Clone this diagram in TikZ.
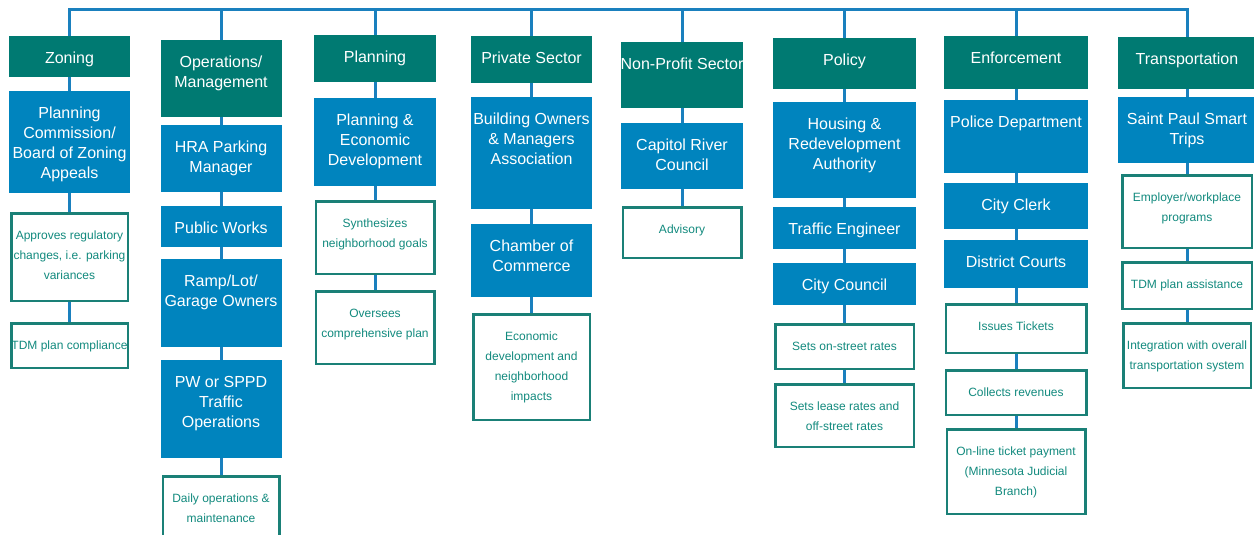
\documentclass[tikz,border=0pt]{standalone}
\usepackage{fontspec}
\setmainfont{Liberation Sans}
\usepackage{tikz}
\definecolor{hdrteal}{HTML}{007A72}
\definecolor{unitblue}{HTML}{0084BE}
\definecolor{linkblue}{HTML}{1A80BE}
\definecolor{dutyline}{HTML}{1A8077}
\definecolor{dutytext}{HTML}{128A7E}
\newcommand{\boxtxt}[3]{\parbox[c][#2pt][t]{#1pt}{\centering\rule{0pt}{27pt}#3}}
\newcommand{\dutytxt}[3]{\parbox[c][#2pt][t]{#1pt}{\centering\rule{0pt}{26pt}#3}}
\tikzset{
  hdr/.style={fill=hdrteal, text=white, inner sep=0pt, anchor=north, font=\fontsize{16}{20}\selectfont},
  unit/.style={fill=unitblue, text=white, inner sep=0pt, anchor=north, font=\fontsize{16}{20}\selectfont},
  duty/.style={draw=dutyline, line width=2.5pt, fill=white, text=dutytext, inner sep=0pt, anchor=north, font=\fontsize{12}{20}\selectfont},
  link/.style={draw=linkblue, line width=3pt}
}

\begin{document}
\begin{tikzpicture}[x=1pt,y=-1pt]
                \useasboundingbox (0,0) rectangle (1254,535);
                \clip (0,0) rectangle (1254,535);

                \node[hdr] (zon) at (69.5,36) {\boxtxt{121}{41}{Zoning}};
                \node[unit] (pcb) at (69.5,91) {\boxtxt{121}{102}{Planning\\Commission/\\Board of Zoning\\Appeals}};
                \node[duty] (appr) at (69.5,212.25) {\dutytxt{116.5}{87.5}{Approves regulatory\\changes, i.e. parking\\variances}};
                \node[duty] (tdmc) at (69.5,322.25) {\dutytxt{116.5}{44.5}{TDM plan compliance}};

                \node[hdr] (ops) at (221,40) {\boxtxt{121}{77}{Operations/\\Management}};
                \node[unit] (hra) at (221,125) {\boxtxt{121}{67}{HRA Parking\\Manager}};
                \node[unit] (pubw) at (221,206) {\boxtxt{121}{41}{Public Works}};
                \node[unit] (ramp) at (221,259) {\boxtxt{121}{88}{Ramp/Lot/\\Garage Owners}};
                \node[unit] (sppd) at (221,360) {\boxtxt{121}{98}{PW or SPPD\\Traffic\\Operations}};
                \node[duty] (daily) at (221,475.25) {\dutytxt{116.5}{77.5}{Daily operations \&\\maintenance}};

                \node[hdr] (plan) at (375,35) {\boxtxt{122}{47}{Planning}};
                \node[unit] (ped) at (375,98) {\boxtxt{122}{88}{Planning \&\\Economic\\Development}};
                \node[duty] (synth) at (375,200.25) {\dutytxt{118.5}{72.5}{Synthesizes\\neighborhood goals}};
                \node[duty] (overs) at (375,290.25) {\dutytxt{118.5}{72.5}{Oversees\\comprehensive plan}};

                \node[hdr] (priv) at (531.5,36) {\boxtxt{121}{47}{Private Sector}};
                \node[unit] (boma) at (531.5,97) {\boxtxt{121}{112}{Building Owners\\\& Managers\\Association}};
                \node[unit] (coc) at (531.5,224) {\boxtxt{121}{73}{Chamber of\\Commerce}};
                \node[duty] (econ) at (531.5,313.25) {\dutytxt{116.5}{105.5}{Economic\\development and\\neighborhood\\impacts}};

                \node[hdr] (npro) at (682,42) {\boxtxt{122}{66}{\makebox[0pt]{Non-Profit Sector}}};
                \node[unit] (crc) at (682,123) {\boxtxt{122}{66}{Capitol River\\Council}};
                \node[duty] (adv) at (682,206.25) {\dutytxt{118.5}{50.5}{Advisory}};

                \node[hdr] (pol) at (844.5,38) {\boxtxt{143}{51}{Policy}};
                \node[unit] (hrda) at (844.5,102) {\boxtxt{143}{96}{Housing \&\\Redevelopment\\Authority}};
                \node[unit] (teng) at (844.5,207) {\boxtxt{143}{42}{Traffic Engineer}};
                \node[unit] (cc) at (844.5,263) {\boxtxt{143}{42}{City Council}};
                \node[duty] (onst) at (844.5,323.25) {\dutytxt{138.5}{44.5}{Sets on-street rates}};
                \node[duty] (lease) at (844.5,383.25) {\dutytxt{138.5}{62.5}{Sets lease rates and\\off-street rates}};

                \node[hdr] (enf) at (1016,36) {\boxtxt{144}{53}{Enforcement}};
                \node[unit] (pd) at (1016,100) {\boxtxt{144}{73}{Police Department}};
                \node[unit] (clerk) at (1016,183) {\boxtxt{144}{46}{City Clerk}};
                \node[unit] (dc) at (1016,240) {\boxtxt{144}{48}{District Courts}};
                \node[duty] (iss) at (1016,303.25) {\dutytxt{140.5}{48.5}{Issues Tickets}};
                \node[duty] (coll) at (1016,369.25) {\dutytxt{140.5}{44.5}{Collects revenues}};
                \node[duty] (onl) at (1016,428.25) {\dutytxt{138.5}{84.5}{On-line ticket payment\\(Minnesota Judicial\\Branch)}};

                \node[hdr] (trn) at (1187,37) {\boxtxt{138}{52}{Transportation}};
                \node[unit] (spst) at (1187,97) {\boxtxt{138}{66}{Saint Paul Smart\\Trips}};
                \node[duty] (emp) at (1187,174.25) {\dutytxt{129.5}{72.5}{Employer/workplace\\programs}};
                \node[duty] (tdma) at (1187,261.25) {\dutytxt{129.5}{46.5}{TDM plan assistance}};
                \node[duty] (integ) at (1187,322.25) {\dutytxt{127.5}{64.5}{Integration with overall\\transportation system}};

                \coordinate (bzon) at (69.5,10);
                \coordinate (bops) at (221,10);
                \coordinate (bplan) at (375,10);
                \coordinate (bpriv) at (531.5,10);
                \coordinate (bnpro) at (682,10);
                \coordinate (bpol) at (844.5,10);
                \coordinate (benf) at (1016,10);
                \coordinate (btrn) at (1187,10);

                \draw[link] (zon) -- (bzon) -- (btrn) -- (trn);
                \draw[link] (bops) -- (ops);
                \draw[link] (bplan) -- (plan);
                \draw[link] (bpriv) -- (priv);
                \draw[link] (bnpro) -- (npro);
                \draw[link] (bpol) -- (pol);
                \draw[link] (benf) -- (enf);

                \draw[link] (zon) -- (pcb) (pcb) -- (appr) (appr) -- (tdmc);
                \draw[link] (ops) -- (hra) (hra) -- (pubw) (pubw) -- (ramp) (ramp) -- (sppd) (sppd) -- (daily);
                \draw[link] (plan) -- (ped) (ped) -- (synth) (synth) -- (overs);
                \draw[link] (priv) -- (boma) (boma) -- (coc) (coc) -- (econ);
                \draw[link] (npro) -- (crc) (crc) -- (adv);
                \draw[link] (pol) -- (hrda) (hrda) -- (teng) (teng) -- (cc) (cc) -- (onst) (onst) -- (lease);
                \draw[link] (enf) -- (pd) (pd) -- (clerk) (clerk) -- (dc) (dc) -- (iss) (iss) -- (coll) (coll) -- (onl);
                \draw[link] (trn) -- (spst) (spst) -- (emp) (emp) -- (tdma) (tdma) -- (integ);
            \end{tikzpicture}
\end{document}
